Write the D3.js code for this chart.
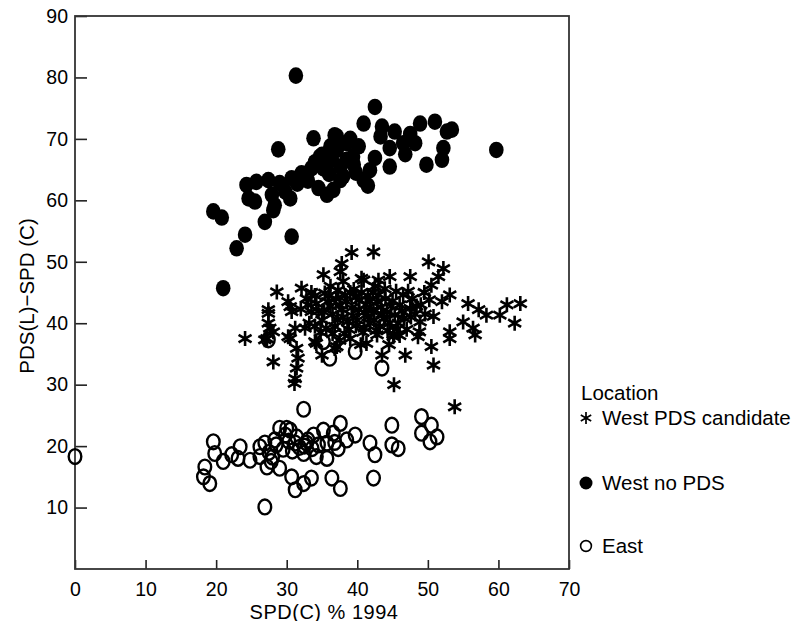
<!DOCTYPE html>
<html>
<head>
<meta charset="utf-8">
<script src="https://cdn.jsdelivr.net/npm/d3@7"></script>
<style>
  body { margin: 0; background: #fff; }
  text { font-family: "Liberation Sans", Arial, sans-serif; fill: #000; }
</style>
</head>
<body>
<svg id="chart" width="799" height="621"></svg>
<script>
// [SPD(C) % 1994, PDS(L)-SPD (C)]
const westNoPds = [
  [31.3, 80.3], [42.5, 75.2], [28.8, 68.3], [33.8, 70.1], [36.8, 70.6], [37.1, 70.4],
  [38.5, 69.3], [35, 67.4], [34.7, 67.1], [35.2, 65.2], [36.4, 66.6], [37.1, 68.2],
  [38.5, 66.6], [39.4, 67.1], [37.6, 65.5], [38, 63.9], [36.6, 61.7], [37.6, 63.3],
  [35.7, 60.9], [34.5, 62], [40.9, 63.3], [41.8, 64.9], [40.9, 72.5], [43.5, 72],
  [45.3, 71.2], [44.6, 68.5], [44.6, 65.5], [46.5, 69.3], [48.2, 69.3], [48.9, 72.5],
  [51, 72.8], [52.7, 71.2], [53.4, 71.5], [52.2, 68.5], [52, 66.6], [49.8, 65.8],
  [59.7, 68.2], [24.3, 62.5], [25.7, 63], [27.4, 63.3], [29, 62.8], [30.7, 63.6],
  [32.1, 64.4], [33.5, 65.2], [24.6, 60.3], [25.5, 59.8], [27.9, 60.9], [28.3, 59.2],
  [30.5, 60.3], [29.8, 61.4], [28.1, 58.4], [19.6, 58.2], [20.8, 57.2], [26.9, 56.5],
  [24.1, 54.4], [22.9, 52.2], [30.7, 54.1], [21, 45.7], [39.5, 65.8], [40.2, 68.8],
  [42.5, 66.9], [43.3, 70.4], [46.8, 67.5], [31.5, 62.7], [33, 63.2], [36, 64.3],
  [41.5, 62.4], [47.5, 70.8], [39, 70], [36.2, 68.8], [39.8, 64.5], [34, 66.2]
];

const westCandidate = [
  [24.1, 37.5], [26.9, 37.3], [27.2, 37.5], [27.6, 39.2], [27.4, 40], [27.4, 41.6],
  [27.4, 42.2], [28.1, 38.6], [28.1, 33.7], [28.6, 45.1], [32.1, 45.7], [30.2, 43.5],
  [30.7, 41.9], [30.5, 42.7], [31.2, 39.2], [30.5, 37.5], [30.2, 37.8], [31.4, 35.9],
  [31.6, 34.3], [31.4, 32.7], [31.2, 31], [31.1, 30.2], [35.4, 44.9], [37.3, 45.4],
  [34, 37], [36.8, 35.9], [35, 34.8], [33.5, 41.9], [32.6, 39.2], [34.2, 36.7],
  [37.1, 36.2], [41.3, 36.7], [45.1, 37.8], [39.2, 51.5], [42.3, 51.6], [37.8, 49.7],
  [37.6, 48.4], [35.2, 47.9], [40.6, 47.3], [40.9, 47], [44.6, 47.6], [47.5, 47.6],
  [50.1, 50], [52.2, 48.9], [51.5, 47.6], [50.5, 46.2], [53.1, 44.6], [52, 43.5],
  [55.7, 43.2], [57.2, 42.2], [58.3, 41.3], [55, 40.2], [56.4, 39.2], [56.7, 38.1],
  [60.2, 41.3], [61.2, 43], [63.1, 43.2], [62.3, 40], [53.1, 38.6], [53.1, 37.5],
  [50.5, 36.2], [50.8, 33.2], [48.6, 37.8], [46.8, 34.8], [45.2, 30], [43.5, 34.8],
  [53.8, 26.4], [50.8, 41.1], [48.9, 40.2], [47.5, 42.4], [45.3, 41.3], [46.5, 44.6],
  [45.1, 38.1], [42.8, 38.1], [42.3, 42.2],
  [33, 43], [34, 44.5], [34.5, 42], [35, 40.5], [35.8, 43.5], [36.5, 41.5],
  [36.8, 39.5], [37.5, 43], [38, 41], [38.3, 44.5], [38.8, 39], [39.2, 42.5],
  [39.5, 45.5], [40, 40.5], [40.3, 43.8], [40.8, 38.5], [41, 41.8], [41.5, 44.5],
  [41.8, 40], [42.5, 46], [42.8, 43.5], [43.2, 39.5], [43.5, 41.5], [44, 44],
  [44.3, 38.8], [44.8, 42.8], [45.5, 45.2], [45.8, 40], [46.3, 42], [47, 39],
  [47.8, 44], [48.2, 41.5], [49, 43], [49.5, 45], [39, 37.5], [40.5, 36.5],
  [37.5, 37.2], [33.2, 40], [32, 42.3], [36.2, 46], [38, 46.8], [43, 47],
  [44.5, 36.5], [46, 38], [34.8, 38.5], [39.8, 44.2], [41.2, 43], [42, 42],
  [43.8, 40.8], [36, 44.5],
  [33.5, 45], [34.2, 43.2], [35.3, 41.8], [35.6, 39.2], [36.2, 42.8], [37, 44],
  [37.2, 40.6], [37.8, 42.2], [38.5, 43.5], [38.6, 40.2], [39, 45], [39.4, 41.2],
  [39.8, 39.6], [40.2, 42.2], [40.6, 45], [41, 39.2], [41.5, 41], [41.8, 43.6],
  [42.2, 45], [42.4, 40.5], [42.7, 38.8], [43, 44.6], [43.4, 42.6], [43.9, 45.6],
  [44.2, 41.8], [44.6, 40], [45, 43.6], [45.6, 39], [46, 43], [46.6, 40.8],
  [47.2, 45.2], [47.6, 41], [48.4, 42.8], [48.8, 38.6], [49.6, 41.5], [50.2, 43.8],
  [38.2, 38.3], [36.5, 38.3], [34, 39.5], [32.8, 44]
];

const east = [
  [0, 18.3], [32.4, 26], [19.6, 20.7], [19.8, 18.8], [18.4, 16.6], [18.2, 15],
  [19.1, 13.9], [21, 17.5], [22.2, 18.6], [23.4, 19.9], [23.1, 18], [24.8, 17.7],
  [26.2, 19.9], [26.2, 18.3], [26.9, 20.5], [27.2, 16.6], [28.3, 21], [29, 22.9],
  [29, 16.4], [30.7, 15], [31.2, 12.9], [32.4, 13.9], [33.5, 14.8], [30.5, 22.6],
  [31.4, 21.5], [32.8, 20.5], [32.4, 18.8], [33.8, 21.8], [35.2, 22.6], [35.7, 20.5],
  [34.2, 18.3], [35.7, 18], [36.6, 22.1], [37.6, 23.7], [37.3, 19.6], [38.5, 21],
  [39.7, 21.8], [36.4, 14.8], [37.6, 13.1], [41.8, 20.5], [42.5, 18.6], [42.3, 14.8],
  [44.9, 23.4], [44.9, 20.2], [45.8, 19.6], [49.1, 24.8], [50.5, 23.4], [49.1, 22.1],
  [50.3, 20.7], [51.3, 21.5], [26.9, 10.1], [30, 22.9], [31.2, 20.5], [27.5, 19],
  [28, 18.2], [29.5, 19.5], [30.3, 20.8], [31.8, 19.8], [33, 21], [34.5, 20.2],
  [28.5, 20.2], [27.8, 17.5], [35.2, 37], [36.1, 34.3], [39.7, 35.4], [43.5, 32.7],
  [27.4, 37.3], [32.5, 20], [30.8, 19.2], [33.6, 19.6], [29.8, 21.8], [36.8, 20.6]
];

const xTicks = [0, 10, 20, 30, 40, 50, 60, 70];
const yTicks = [10, 20, 30, 40, 50, 60, 70, 80, 90];
const legendItems = ["West PDS candidate", "West no PDS", "East"];

const svg = d3.select("#chart");
const plot = { left: 75, right: 569, top: 16, bottom: 569 };

const x = d3.scaleLinear().domain([0, 70]).range([plot.left, plot.right]);
const y = d3.scaleLinear().domain([0, 90]).range([plot.bottom, plot.top]);

function starPath(a) {
  const c = a * Math.cos(Math.PI / 6), s = a * Math.sin(Math.PI / 6);
  return `M0,${-a}L0,${a}M${-c},${-s}L${c},${s}M${-c},${s}L${c},${-s}`;
}

// axes
const xAxis = svg.append("g")
  .attr("transform", `translate(0,${plot.bottom})`)
  .call(d3.axisBottom(x).tickValues(xTicks).tickSize(-9).tickPadding(13));
const yAxis = svg.append("g")
  .attr("transform", `translate(${plot.left},0)`)
  .call(d3.axisLeft(y).tickValues(yTicks).tickSize(-12).tickPadding(7));

[xAxis, yAxis].forEach(g => {
  g.select(".domain").remove();
  g.selectAll(".tick line").attr("stroke", "#222").attr("stroke-width", 1.6);
  g.selectAll(".tick text").style("font-size", "19.5px").attr("fill", "#000");
});

svg.append("rect")
  .attr("x", plot.left).attr("y", plot.top)
  .attr("width", plot.right - plot.left).attr("height", plot.bottom - plot.top)
  .attr("fill", "none").attr("stroke", "#333").attr("stroke-width", 1.8);

// axis titles
svg.append("text")
  .attr("x", (plot.left + plot.right) / 2 + 2).attr("y", 618.5)
  .attr("text-anchor", "middle").style("font-size", "20px")
  .style("letter-spacing", "0.5px")
  .text("SPD(C) % 1994");
svg.append("text")
  .attr("transform", `translate(34,296) rotate(-90)`)
  .attr("text-anchor", "middle").style("font-size", "20.5px")
  .text("PDS(L)\u2212SPD (C)");

// points
const marks = svg.append("g");
marks.selectAll(".cand").data(westCandidate).join("path")
  .attr("class", "cand")
  .attr("transform", d => `translate(${x(d[0])},${y(d[1])})`)
  .attr("d", starPath(7.5))
  .attr("fill", "none").attr("stroke", "#000").attr("stroke-width", 2.6);

marks.selectAll(".nopds").data(westNoPds).join("ellipse")
  .attr("class", "nopds")
  .attr("cx", d => x(d[0])).attr("cy", d => y(d[1]))
  .attr("rx", 7.3).attr("ry", 8.3)
  .attr("fill", "#000");

marks.selectAll(".east").data(east).join("ellipse")
  .attr("class", "east")
  .attr("cx", d => x(d[0])).attr("cy", d => y(d[1]))
  .attr("rx", 6.3).attr("ry", 7.4)
  .attr("fill", "none").attr("stroke", "#000").attr("stroke-width", 2.4);

// legend
const legend = svg.append("g");
legend.append("text").attr("x", 581).attr("y", 400).style("font-size", "20.5px").text("Location");
const rowY = [425, 490, 553];
legendItems.forEach((name, i) => {
  const cy = rowY[i] - 7;
  if (i === 0) {
    legend.append("path").attr("transform", `translate(586,${cy})`)
      .attr("d", starPath(6)).attr("fill", "none").attr("stroke", "#000").attr("stroke-width", 1.7);
  } else if (i === 1) {
    legend.append("circle").attr("cx", 586).attr("cy", cy).attr("r", 6.5).attr("fill", "#000");
  } else {
    legend.append("circle").attr("cx", 586).attr("cy", cy).attr("r", 5.4)
      .attr("fill", "none").attr("stroke", "#000").attr("stroke-width", 1.6);
  }
  legend.append("text").attr("x", 602).attr("y", rowY[i]).style("font-size", "20.5px").text(name);
});
</script>
</body>
</html>
